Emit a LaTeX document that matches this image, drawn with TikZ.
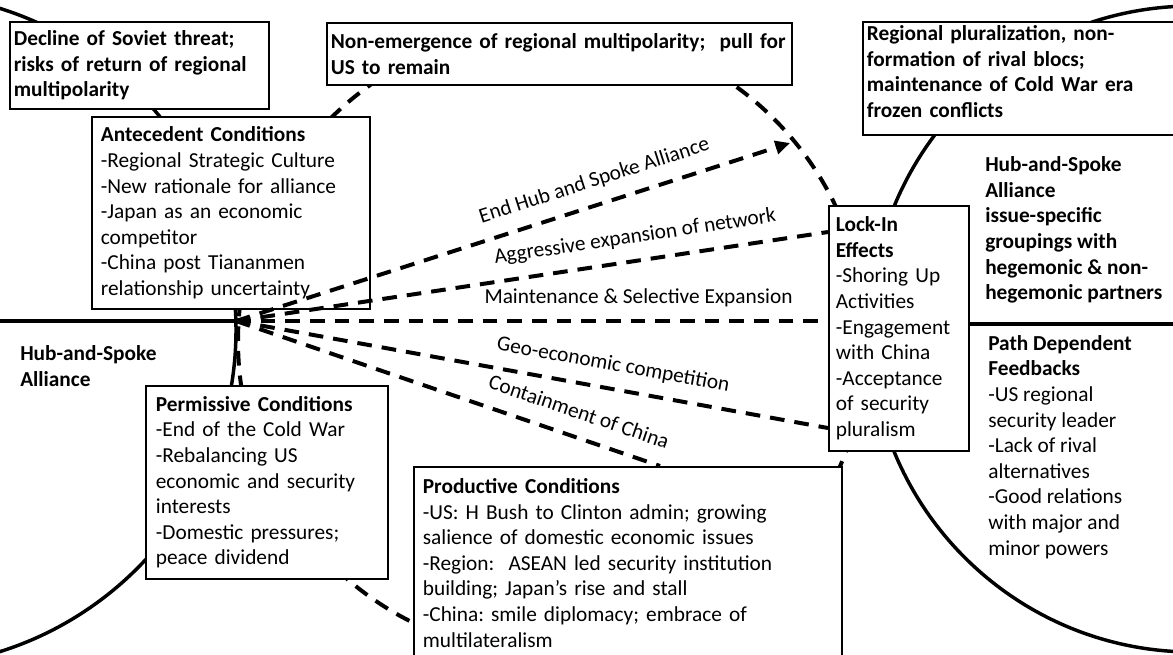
\documentclass[tikz,border=0pt]{standalone}
\usepackage{fontspec}
\setmainfont{Carlito}
\usetikzlibrary{arrows.meta}
\frenchspacing
\begin{document}
\begin{tikzpicture}[x=0.75pt,y=-0.75pt,
  every node/.style={font=\fontsize{16}{19.2}\selectfont},
  bold/.style={font=\fontsize{16}{19.2}\selectfont\bfseries},
  box/.style={draw=black, line width=1.3pt, fill=white, anchor=north west,
              align=left, inner ysep=0pt},
  heavy/.style={line width=2.6pt},
  dashline/.style={line width=3pt, dash pattern=on 11pt off 7.5pt},
  lbl/.style={sloped, above=8pt, inner sep=0pt, text depth=4pt, text height=11pt}
]
\useasboundingbox (0,0) rectangle (1173,654);
\clip (0,0) rectangle (1173,654);

% the three phases: two solid circles and the dashed juncture circle
\draw[heavy] (-101,330) circle[radius=337];
\draw[heavy] (1193,329) circle[radius=323];
\draw[dashline] (552,341) circle[radius=314];

\coordinate (J) at (236,321);
\coordinate (W) at (0,321);
\coordinate (E) at (1173,324);
\coordinate (tipEnd) at (790,143);

% condition and outcome boxes
\node[box, bold, text width=188.25pt, inner xsep=3pt, minimum height=65.25pt] (decline) at (9,21)
  {Decline of Soviet threat;\\risks of return of regional\\multipolarity};
\node[box, bold, text width=342.75pt, inner xsep=3pt, minimum height=46.5pt] (nonem) at (326,22)
  {Non-emergence of regional multipolarity;~ pull for\\US to remain};
\node[box, bold, text width=241.5pt, inner xsep=3pt, minimum height=84.75pt] (regional) at (862,21)
  {Regional pluralization, non-\\formation of rival blocs;\\maintenance of Cold War era\\frozen conflicts\\[-9pt]\mbox{}};
\node[box, text width=195pt, inner xsep=6.75pt, minimum height=144pt] (ante) at (91,116)
  {\textbf{Antecedent Conditions}\\-Regional Strategic Culture\\-New rationale for alliance\\-Japan as an economic\\competitor\\-China post Tiananmen\\relationship uncertainty};
\node[box, text width=166.5pt, inner xsep=7.5pt, minimum height=144.75pt] (perm) at (145,385)
  {\textbf{Permissive Conditions}\\-End of the Cold War\\-Rebalancing US\\economic and security\\interests\\-Domestic pressures;\\peace dividend};
\node[box, text width=307.5pt, inner xsep=6.75pt, minimum height=144pt] (prod) at (413,466)
  {\textbf{Productive Conditions}\\-US: H Bush to Clinton admin; growing\\salience of domestic economic issues\\-Region:~ ASEAN led security institution\\building; Japan’s rise and stall\\-China: smile diplomacy; embrace of\\multilateralism};
\node[box, text width=94.5pt, inner xsep=5.25pt, minimum height=183.75pt] (lockin) at (828,205)
  {\textbf{Lock-In}\\\textbf{Effects}\\-Shoring Up\\Activities\\-Engagement\\with China\\-Acceptance\\of security\\pluralism};

% the baseline through the critical juncture
\draw[heavy] (W) -- (J);
\draw[heavy] (lockin.east |- E) -- (E);

% options open at the juncture
\draw[dashline, -{Triangle[length=11pt,width=10pt]}] (J) -- node[lbl, pos=0.66] {End Hub and Spoke Alliance} (tipEnd);
\draw[dashline] (J) -- node[lbl, pos=0.68] {Aggressive expansion of network} (lockin.west |- 0,232);
\draw[dashline] (J) -- node[lbl, pos=0.68] {Maintenance \& Selective Expansion} (lockin.west |- J);
\draw[dashline] (J) -- node[lbl, pos=0.63] {Geo-economic competition} (lockin.west |- 0,428);
\draw[dashline] (J) -- node[lbl, pos=0.79] {Containment of China} (prod.north -| 660,0);

% free labels
\node[bold, anchor=west, align=left, inner sep=0pt] (hubL) at (20,366) {Hub-and-Spoke\\Alliance};
\node[bold, anchor=west, align=left, inner sep=0pt] (hubR) at (985,230)
  {Hub-and-Spoke\\Alliance\\issue-specific\\groupings with\\hegemonic \& non-\\hegemonic partners};
\node[anchor=west, align=left, inner sep=0pt] (pathdep) at (988,447)
  {\textbf{Path Dependent}\\\textbf{Feedbacks}\\-US regional\\security leader\\-Lack of rival\\alternatives\\-Good relations\\with major and\\minor powers};
\end{tikzpicture}
\end{document}
